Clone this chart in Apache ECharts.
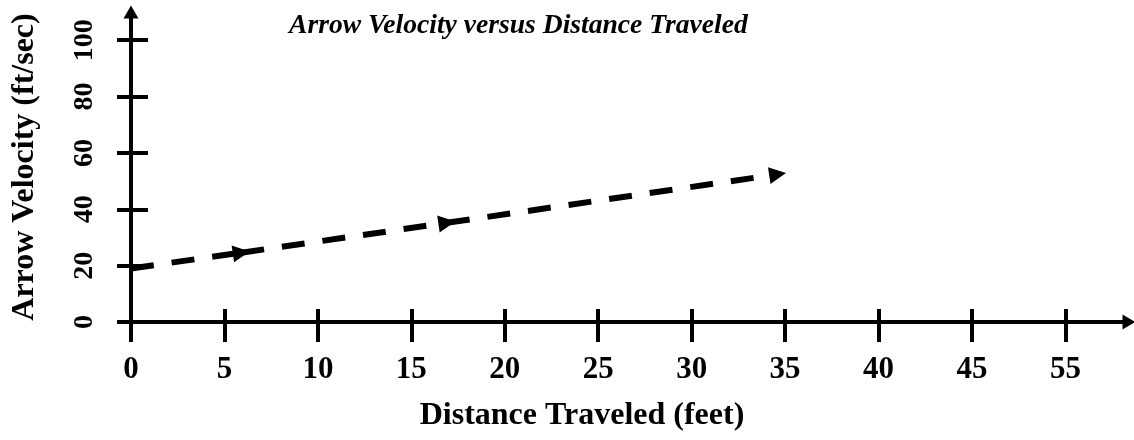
<!DOCTYPE html>
<html>
<head>
<meta charset="utf-8">
<script src="https://cdn.jsdelivr.net/npm/echarts@6/dist/echarts.min.js"></script>
<style>
  html, body { margin: 0; padding: 0; background: #fff; }
  #chart { width: 1134px; height: 440px; }
</style>
</head>
<body>
<div id="chart"></div>
<script>
// tick values and their printed labels (the last one reads "55" in the original)
const xTickValues = [0, 5, 10, 15, 20, 25, 30, 35, 40, 45, 50];
const xTickLabels = ['0', '5', '10', '15', '20', '25', '30', '35', '40', '45', '55'];
const yTickValues = [0, 20, 40, 60, 80, 100];

// points along the dashed arrow line (distance ft, velocity ft/sec)
const distance = [0, 5.9, 16.9, 34.6];
const velocity = [19, 24.6, 35.2, 52.4];

const font = '"Liberation Serif", "Times New Roman", serif';

// each piece of the dashed line ends in an arrowhead
let segments = [];
for (let i = 0; i < distance.length - 1; i++) {
  segments.push({ coords: [[distance[i], velocity[i]], [distance[i + 1], velocity[i + 1]]] });
}

let myChart = echarts.init(document.getElementById('chart'));

let option = {
  animation: false,
  title: {
    text: 'Arrow Velocity versus Distance Traveled',
    left: 284,
    top: 7,
    textStyle: { fontFamily: font, fontStyle: 'italic', fontWeight: 'bold', fontSize: 27.6, color: '#000' }
  },
  grid: { left: 131, right: 5, top: 12, bottom: 118 },
  xAxis: [
    {
      type: 'value',
      min: 0,
      max: 53.4,
      splitLine: { show: false },
      axisLine: { lineStyle: { color: '#000', width: 4 }, symbol: ['none', 'triangle'], symbolSize: [15, 13] },
      axisTick: { show: true, customValues: xTickValues, length: 20, lineStyle: { color: '#000', width: 4 } },
      axisLabel: {
        customValues: xTickValues,
        margin: 32,
        formatter: function (v) {
          let i = xTickValues.indexOf(v);
          return i >= 0 ? xTickLabels[i] : '';
        },
        fontFamily: font, fontWeight: 'bold', fontSize: 31, color: '#000'
      },
      name: 'Distance Traveled (feet)',
      nameLocation: 'middle',
      nameGap: 78,
      nameTextStyle: { fontFamily: font, fontWeight: 'bold', fontSize: 32, color: '#000', padding: [0, 96, 0, 0] }
    },
    {
      type: 'value',
      min: 0,
      max: 53.4,
      position: 'bottom',
      splitLine: { show: false },
      axisLine: { show: false },
      axisTick: { show: true, inside: true, customValues: xTickValues, length: 13, lineStyle: { color: '#000', width: 4 } },
      axisLabel: { show: false }
    }
  ],
  yAxis: [
    {
      type: 'value',
      min: 0,
      max: 110,
      splitLine: { show: false },
      axisLine: { lineStyle: { color: '#000', width: 4 }, symbol: ['none', 'triangle'], symbolSize: [15, 13] },
      axisTick: { show: true, customValues: yTickValues, length: 14, lineStyle: { color: '#000', width: 4 } },
      axisLabel: {
        customValues: yTickValues,
        rotate: 90,
        margin: 32,
        fontFamily: font, fontWeight: 'bold', fontSize: 28, color: '#000'
      },
      name: 'Arrow Velocity (ft/sec)',
      nameLocation: 'middle',
      nameGap: 90,
      nameTextStyle: { fontFamily: font, fontWeight: 'bold', fontSize: 32, color: '#000' }
    },
    {
      type: 'value',
      min: 0,
      max: 110,
      position: 'left',
      splitLine: { show: false },
      axisLine: { show: false },
      axisTick: { show: true, inside: true, customValues: yTickValues, length: 17, lineStyle: { color: '#000', width: 4 } },
      axisLabel: { show: false }
    }
  ],
  series: [
    {
      type: 'lines',
      coordinateSystem: 'cartesian2d',
      xAxisIndex: 0,
      yAxisIndex: 0,
      symbol: ['none', 'triangle'],
      symbolSize: [17, 17],
      lineStyle: { color: '#000', width: 6, type: [23, 18], opacity: 1 },
      data: segments
    }
  ]
};

myChart.setOption(option);
</script>
</body>
</html>
